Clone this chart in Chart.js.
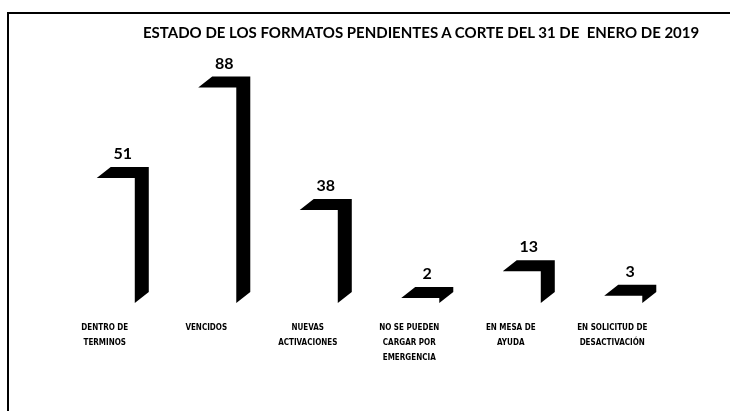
<!DOCTYPE html>
<html>
<head>
<meta charset="utf-8">
<script src="https://cdn.jsdelivr.net/npm/chart.js@4/dist/chart.umd.min.js"></script>
<style>
  body { margin: 0; background: #fff; }
  #wrap { position: relative; width: 730px; height: 411px; overflow: hidden; }
  #frame { position: absolute; left: 7px; top: 12px; width: 740px; height: 420px;
           border-left: 2px solid #000; border-top: 2px solid #000; }
  #title { position: absolute; left: 143px; top: 23px; white-space: pre;
           font: bold 15px Lato, "Liberation Sans", sans-serif; color: #000; }
  canvas { position: absolute; left: 0; top: 0; }
</style>
</head>
<body>
<div id="wrap">
  <div id="frame"></div>
  <canvas id="chart" width="730" height="411"></canvas>
  <div id="title">ESTADO DE LOS FORMATOS PENDIENTES A CORTE DEL 31 DE  ENERO DE 2019</div>
</div>
<script>
// categories (tick labels) and values
const categories = [
    ["DENTRO DE", "TERMINOS"],
    ["VENCIDOS"],
    ["NUEVAS", "ACTIVACIONES"],
    ["NO SE PUEDEN", "CARGAR POR", "EMERGENCIA"],
    ["EN MESA DE", "AYUDA"],
    ["EN SOLICITUD DE", "DESACTIVACIÓN"]
];
const formatos = [51, 88, 38, 2, 13, 3];

const DX = 14; // depth of the fake 3d
const DY = 11;

// draws the black top and side of every bar, plus the value above it
const bar3d = {
    id: 'bar3d',
    afterDatasetsDraw(chart) {
        const ctx = chart.ctx;
        const meta = chart.getDatasetMeta(0);
        ctx.save();
        meta.data.forEach((bar, i) => {
            const half = bar.width / 2;
            const left = bar.x - half;
            const right = bar.x + half;
            const top = bar.y;
            const base = bar.base;
            ctx.fillStyle = '#000';
            ctx.beginPath();
            ctx.moveTo(left, top);
            ctx.lineTo(left + DX, top - DY);
            ctx.lineTo(right + DX, top - DY);
            ctx.lineTo(right + DX, base - DY);
            ctx.lineTo(right, base);
            ctx.lineTo(right, top);
            ctx.closePath();
            ctx.fill();

            ctx.font = 'bold 16px Lato, "Liberation Sans", sans-serif';
            ctx.textAlign = 'center';
            ctx.textBaseline = 'bottom';
            ctx.fillText(String(formatos[i]), bar.x + DX / 2, top - DY - 5);
        });
        ctx.restore();
    }
};

const ctx = document.getElementById('chart').getContext('2d');
const chart = new Chart(ctx, {
    type: 'bar',
    data: {
        labels: categories,
        datasets: [{
            data: formatos,
            backgroundColor: '#ffffff',
            borderWidth: 0,
            barPercentage: 0.375,
            categoryPercentage: 1
        }]
    },
    options: {
        responsive: false,
        animation: false,
        layout: { padding: { top: 58, left: 65, right: 56, bottom: 0 } },
        plugins: {
            legend: { display: false },
            tooltip: { enabled: false }
        },
        scales: {
            x: {
                grid: { display: false, drawTicks: false },
                border: { display: false },
                ticks: {
                    color: '#000',
                    padding: 17,
                    labelOffset: -11,
                    maxRotation: 0,
                    autoSkip: false,
                    font: { family: '"DejaVu Sans Condensed", "Liberation Sans Narrow", sans-serif', size: 8, weight: 'bold', lineHeight: 1.875 }
                },
                afterFit(scale) { scale.height = 108; }
            },
            y: {
                display: false,
                min: 0,
                max: 100
            }
        }
    },
    plugins: [bar3d]
});
</script>
</body>
</html>
